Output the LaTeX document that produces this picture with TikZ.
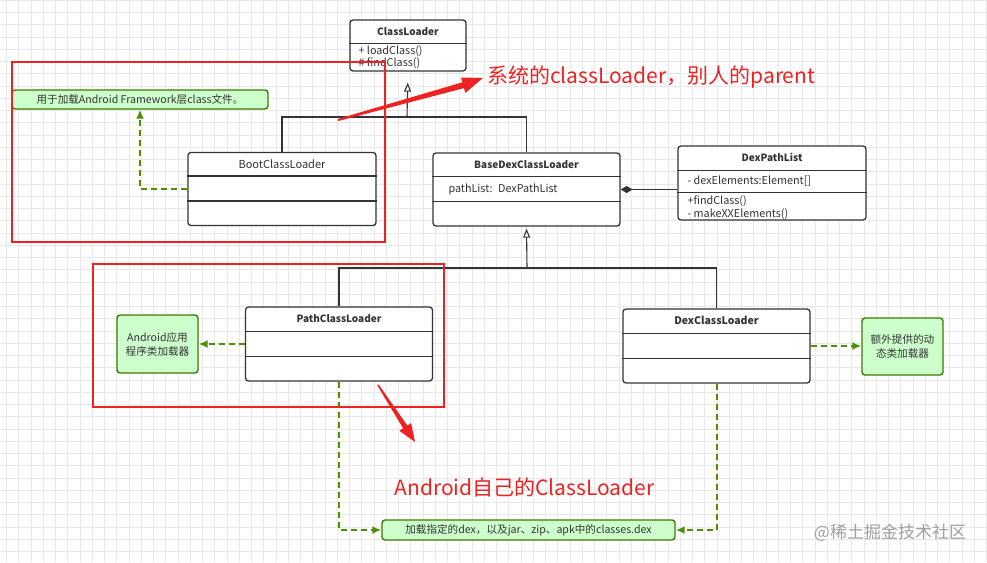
\documentclass[tikz,border=0pt]{standalone}
\usepackage{fontspec}
\setmainfont{Noto Sans CJK SC}
\usetikzlibrary{arrows.meta}
\definecolor{boxline}{HTML}{333333}
\definecolor{notefill}{HTML}{CCFFCC}
\definecolor{noteline}{HTML}{3D7A00}
\definecolor{notearrow}{HTML}{4A9000}
\definecolor{markred}{HTML}{EE2222}
\definecolor{gridgray}{HTML}{E8E8E8}

\begin{document}
\begin{tikzpicture}[x=1pt,y=-1pt,
  umlbox/.style={draw=boxline, line width=1.3pt, rounded corners=3pt, fill=white, inner sep=0pt},
  umltitle/.style={font=\fontsize{10}{12}\selectfont\bfseries, text=boxline, inner sep=0pt},
  member/.style={font=\fontsize{10.8}{12}\selectfont, text=boxline, anchor=west, inner sep=0pt},
  notebox/.style={draw=noteline, line width=1.4pt, rounded corners=3pt, fill=notefill, inner sep=1pt,
    font=\fontsize{10.6}{14}\selectfont, text=boxline, align=center},
  extends/.style={draw=boxline, line width=1.1pt, -{Triangle[open, length=9pt, width=7pt]}},
  compose/.style={draw=boxline, line width=1.3pt, -{Diamond[length=12pt, width=7pt]}},
  noteflow/.style={draw=notearrow, line width=2pt, dash pattern=on 6pt off 4pt, -{Latex[length=9pt, width=8pt]}},
  markbox/.style={draw=markred, line width=2.4pt},
  marktext/.style={text=markred, font=\fontsize{21}{25}\selectfont, inner sep=0pt}
]
  \useasboundingbox (0,0) rectangle (987,562);
  % background grid
  \foreach \i in {0,...,80}
    \draw[gridgray, line width=0.8pt] (6.5+\i*12.25,0) -- (6.5+\i*12.25,562);
  \foreach \j in {0,...,45}
    \draw[gridgray, line width=0.8pt] (0,0.2+\j*12.25) -- (987,0.2+\j*12.25);

  % classes
  \node[umlbox, minimum width=116pt, minimum height=51pt] (classloader) at (408,45.5) {};
  \node[umltitle] (classloadertitle) at ([yshift=-12pt]classloader.north) {ClassLoader};
  \draw[boxline, line width=1.3pt] ([yshift=-24pt]classloader.north west) -- ([yshift=-24pt]classloader.north east);
  \node[member] (loadclass) at ([xshift=9pt, yshift=-32pt]classloader.north west) {+ loadClass()};
  \node[member] (findclass) at ([xshift=9pt, yshift=-44pt]classloader.north west) {\# findClass()};

  \node[umlbox, minimum width=188pt, minimum height=73pt] (boot) at (282,189) {};
  \node[umltitle, font=\fontsize{11}{13}\selectfont] (boottitle) at ([yshift=-12pt]boot.north) {BootClassLoader};
  \draw[boxline, line width=1.3pt] ([yshift=-24pt]boot.north west) -- ([yshift=-24pt]boot.north east);
  \draw[boxline, line width=1.3pt] ([yshift=-49pt]boot.north west) -- ([yshift=-49pt]boot.north east);

  \node[umlbox, minimum width=187pt, minimum height=73pt] (base) at (526.5,189.5) {};
  \node[umltitle] (basetitle) at ([yshift=-12pt]base.north) {BaseDexClassLoader};
  \draw[boxline, line width=1.3pt] ([yshift=-24pt]base.north west) -- ([yshift=-24pt]base.north east);
  \draw[boxline, line width=1.3pt] ([yshift=-49pt]base.north west) -- ([yshift=-49pt]base.north east);
  \node[member] (pathlist) at ([xshift=16pt, yshift=-37pt]base.north west) {pathList:~ DexPathList};

  \node[umlbox, minimum width=188pt, minimum height=74pt] (dexpath) at (772,183) {};
  \node[umltitle] (dexpathtitle) at ([yshift=-12.5pt]dexpath.north) {DexPathList};
  \draw[boxline, line width=1.3pt] ([yshift=-25pt]dexpath.north west) -- ([yshift=-25pt]dexpath.north east);
  \draw[boxline, line width=1.3pt] ([yshift=-47pt]dexpath.north west) -- ([yshift=-47pt]dexpath.north east);
  \node[member] (dexelements) at ([xshift=10pt, yshift=-36pt]dexpath.north west) {- dexElements:Element[]};
  \node[member] (dexfind) at ([xshift=10pt, yshift=-56pt]dexpath.north west) {+findClass()};
  \node[member] (makeelements) at ([xshift=10pt, yshift=-69pt]dexpath.north west) {- makeXXElements()};

  \node[umlbox, minimum width=187pt, minimum height=74pt] (path) at (339,344) {};
  \node[umltitle] (pathtitle) at ([yshift=-12.5pt]path.north) {PathClassLoader};
  \draw[boxline, line width=1.3pt] ([yshift=-25pt]path.north west) -- ([yshift=-25pt]path.north east);
  \draw[boxline, line width=1.3pt] ([yshift=-50pt]path.north west) -- ([yshift=-50pt]path.north east);

  \node[umlbox, minimum width=187pt, minimum height=74pt] (dexcl) at (716.5,346) {};
  \node[umltitle, font=\fontsize{10.5}{12}\selectfont\bfseries] (dexcltitle) at ([yshift=-12.5pt]dexcl.north) {DexClassLoader};
  \draw[boxline, line width=1.3pt] ([yshift=-25pt]dexcl.north west) -- ([yshift=-25pt]dexcl.north east);
  \draw[boxline, line width=1.3pt] ([yshift=-50pt]dexcl.north west) -- ([yshift=-50pt]dexcl.north east);

  % notes
  \node[notebox, minimum width=256pt, minimum height=19pt] (fwnote) at (140,99.5) {用于加载Android Framework层class文件。};
  \node[notebox, minimum width=81pt, minimum height=58pt] (appnote) at (157.5,344) {Android应用\\程序类加载器};
  \node[notebox, minimum width=81pt, minimum height=57pt] (dynnote) at (902.5,346.5) {额外提供的动\\态类加载器};
  \node[notebox, minimum width=293pt, minimum height=20pt] (loadnote) at (528.5,530) {加载指定的dex，以及jar、zip、apk中的classes.dex};

  % inheritance
  \coordinate (topbus) at (407,117);
  \coordinate (lowbus) at (527,268);
  \draw[boxline, line width=1.1pt] (boot.north) |- (topbus) -| (base.north);
  \draw[extends, shorten >=11pt] (topbus) -- (classloader.south);
  \draw[boxline, line width=1.1pt] (path.north) |- (lowbus) -| (dexcl.north);
  \draw[extends, shorten >=2pt] (lowbus) -- (base.south);
  \draw[compose] (dexpath.west |- base.east) -- (base.east);

  % note links
  \draw[noteflow] (boot.west) -| (fwnote.south);
  \draw[noteflow] (path.west) -- (appnote.east);
  \draw[noteflow] (dexcl.east) -- (dynnote.west |- dexcl.east);
  \draw[noteflow] (path.south) |- (loadnote.west);
  \draw[noteflow] (dexcl.south) |- (loadnote.east);

  % red marks
  \draw[markbox] (12,62) rectangle (385,242);
  \draw[markbox] (93,264) rectangle (444,407);
  \fill[markred] (337.7,119) -- (462.4,82.3) -- (461.1,77.5) -- (483,78) -- (465.3,92.9) -- (464.0,88.1) -- (338.3,121) -- cycle;
  \fill[markred] (377.3,385.4) -- (403.1,428.3) -- (399.3,430.7) -- (415,442) -- (411.1,423.1) -- (407.3,425.5) -- (378.7,384.6) -- cycle;
  \node[marktext, anchor=west] (parentnote) at (487,77) {系统的classLoader，别人的parent};
  \node[marktext] (ownnote) at (524.5,487) {Android自己的ClassLoader};

  \node[text=gray!75, font=\fontsize{17}{20}\selectfont] (watermark) at (890,533) {@稀土掘金技术社区};
\end{tikzpicture}
\end{document}
